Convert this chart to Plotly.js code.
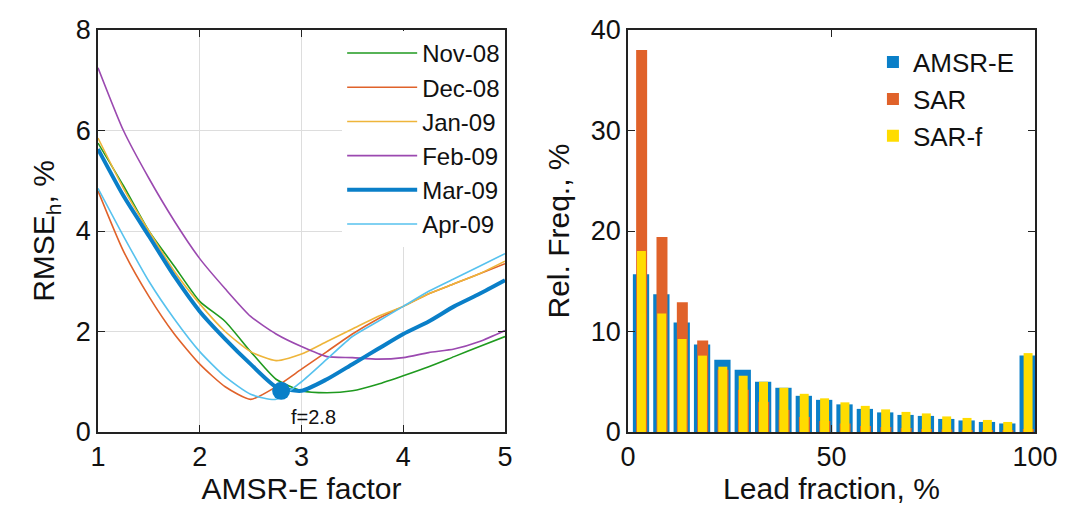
<!doctype html>
<html>
<head>
<meta charset="UTF-8">
<script src="https://cdn.plot.ly/plotly-3.0.1.min.js"></script>
<style>body{margin:0;background:#fff}#plot{width:1068px;height:516px}</style>
</head>
<body>
<div id="plot"></div>
<script>
// left panel: RMSE vs AMSR-E factor
var factor = [1, 1.25, 1.5, 1.75, 2, 2.25, 2.5, 2.75, 3, 3.25, 3.5, 3.75, 4, 4.25, 4.5, 4.75, 5];
var nov08 = [5.75, 4.9, 4.0, 3.3, 2.6, 2.2, 1.6, 1.05, 0.82, 0.78, 0.82, 0.95, 1.12, 1.3, 1.5, 1.7, 1.9];
var dec08 = [4.8, 3.6, 2.7, 1.95, 1.35, 0.9, 0.65, 0.9, 1.25, 1.6, 1.95, 2.25, 2.5, 2.75, 2.95, 3.15, 3.35];
var jan09 = [5.85, 4.85, 4.0, 3.2, 2.55, 2.0, 1.6, 1.42, 1.55, 1.8, 2.05, 2.3, 2.5, 2.75, 2.95, 3.15, 3.4];
var feb09 = [7.25, 6.0, 5.05, 4.2, 3.45, 2.85, 2.3, 1.95, 1.7, 1.5, 1.48, 1.45, 1.48, 1.58, 1.65, 1.8, 2.02];
var mar09 = [5.63, 4.7, 3.9, 3.1, 2.4, 1.85, 1.35, 0.9, 0.82, 1.05, 1.35, 1.65, 1.95, 2.2, 2.5, 2.75, 3.02];
var apr09 = [4.85, 3.9, 3.0, 2.25, 1.6, 1.1, 0.75, 0.65, 1.0, 1.45, 1.9, 2.2, 2.5, 2.8, 3.05, 3.3, 3.55];
var bestF = 2.8, bestRmse = 0.82;

// right panel: histogram of lead fraction
var binCenters = [2.5, 7.5, 12.5, 17.5, 22.5, 27.5, 32.5, 37.5, 42.5, 47.5, 52.5, 57.5, 62.5, 67.5, 72.5, 77.5, 82.5, 87.5, 92.5, 97.5];
var amsr = [15.7, 13.7, 10.9, 8.7, 7.2, 6.2, 5.0, 4.4, 3.6, 3.2, 2.75, 2.3, 1.95, 1.7, 1.6, 1.3, 1.15, 1.0, 0.85, 7.6];
var sar = [38.0, 19.4, 12.9, 9.1, 6.2, 4.2, 3.0, 2.2, 1.5, 1.1, 0.85, 0.6, 0.5, 0.4, 0.3, 0.25, 0.2, 0.2, 0.15, 0.3];
var sarf = [18.0, 11.8, 9.25, 7.6, 6.5, 5.6, 5.0, 4.4, 3.8, 3.35, 2.95, 2.6, 2.25, 2.0, 1.85, 1.55, 1.4, 1.2, 1.0, 7.85];

var months = ['Nov-08', 'Dec-08', 'Jan-09', 'Feb-09', 'Mar-09', 'Apr-09'];
var series = [nov08, dec08, jan09, feb09, mar09, apr09];
var colors = ['#1f9a1f', '#e0622a', '#eeb53a', '#9b49b0', '#0a7fc8', '#57c2ee'];

var traces = [];
months.forEach(function (m, i) {
  traces.push({x: factor, y: series[i], name: m, mode: 'lines', xaxis: 'x', yaxis: 'y', legend: 'legend',
    line: {color: colors[i], width: m === 'Mar-09' ? 4 : 1.6, shape: 'spline', smoothing: 0.6}});
});
traces.push({x: [bestF], y: [bestRmse], mode: 'markers', showlegend: false, xaxis: 'x', yaxis: 'y',
  marker: {color: '#0a7fc8', size: 18}});
traces.push({x: binCenters, y: amsr, type: 'bar', name: 'AMSR-E', width: 4, offset: -1.3, xaxis: 'x2', yaxis: 'y2', legend: 'legend2',
  marker: {color: '#0a7fc8'}});
traces.push({x: binCenters, y: sar, type: 'bar', name: 'SAR', width: 2.7, offset: -0.5, xaxis: 'x2', yaxis: 'y2', legend: 'legend2',
  marker: {color: '#e0622a'}});
traces.push({x: binCenters, y: sarf, type: 'bar', name: 'SAR-f', width: 2.2, offset: -0.3, xaxis: 'x2', yaxis: 'y2', legend: 'legend2',
  marker: {color: '#ffdc00'}});

var yd = [84 / 516, 486 / 516];
var ax = {showline: true, linecolor: '#222', linewidth: 1.5, mirror: 'ticks', ticks: 'inside', ticklen: 7,
  tickcolor: '#222', zeroline: false, tickfont: {size: 27, color: '#111'}};
var layout = {
  width: 1068, height: 516, margin: {l: 0, r: 0, t: 0, b: 0},
  paper_bgcolor: '#fff', plot_bgcolor: '#fff', barmode: 'overlay',
  font: {family: 'Liberation Sans, Arial, sans-serif', color: '#111'},
  xaxis: Object.assign({}, ax, {domain: [98 / 1068, 505 / 1068], range: [1, 5], dtick: 1, showgrid: true, gridcolor: '#ddd',
    title: {text: 'AMSR-E factor', font: {size: 30}, standoff: 6}}),
  yaxis: Object.assign({}, ax, {domain: yd, range: [0, 8], dtick: 2, showgrid: true, gridcolor: '#ddd',
    title: {text: 'RMSE<sub>h</sub>, %', font: {size: 30}, standoff: 12}}),
  xaxis2: Object.assign({}, ax, {domain: [628 / 1068, 1035 / 1068], range: [0, 100], tickvals: [0, 50, 100], showgrid: false,
    anchor: 'y2', title: {text: 'Lead fraction, %', font: {size: 30}, standoff: 6}}),
  yaxis2: Object.assign({}, ax, {domain: yd, range: [0, 40], dtick: 10, showgrid: false, anchor: 'x2',
    title: {text: 'Rel. Freq., %', font: {size: 30}, standoff: 12}}),
  legend: {x: 0.473, xanchor: 'right', y: 0.94, yanchor: 'top', bgcolor: '#fff', font: {size: 24},
    tracegroupgap: 0, itemwidth: 70},
  legend2: {x: 0.955, xanchor: 'right', y: 0.925, yanchor: 'top', bgcolor: 'rgba(0,0,0,0)', font: {size: 26}},
  annotations: [{x: 3.12, y: 0.3, xref: 'x', yref: 'y', text: 'f=2.8', showarrow: false, font: {size: 20}}]
};
Plotly.newPlot('plot', traces, layout, {displayModeBar: false});
</script>
</body>
</html>
